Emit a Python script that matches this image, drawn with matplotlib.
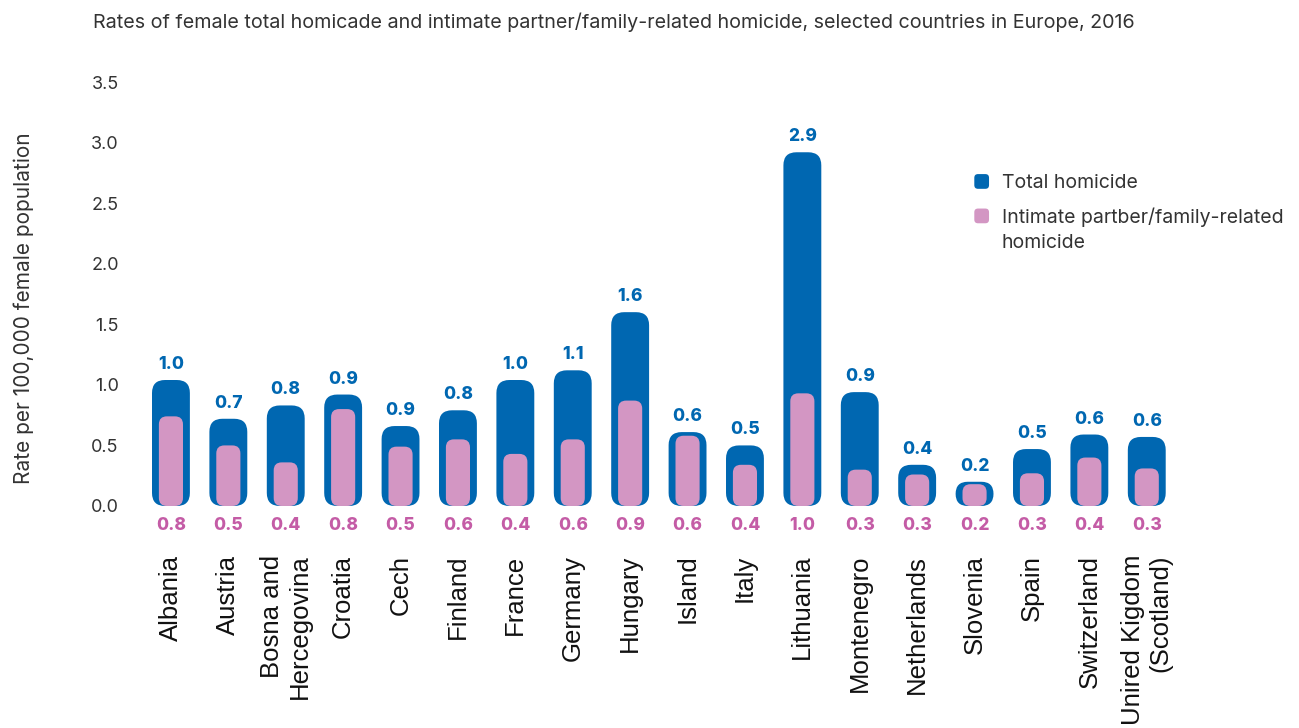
import matplotlib
matplotlib.use("Agg")
import matplotlib.pyplot as plt
from matplotlib.patches import FancyBboxPatch, Patch
from matplotlib.legend_handler import HandlerPatch
import numpy as np

countries = ["Albania", "Austria", "Bosna and\nHercegovina", "Croatia", "Cech", "Finland",
             "France", "Germany", "Hungary", "Island", "Italy", "Lithuania", "Montenegro",
             "Netherlands", "Slovenia", "Spain", "Switzerland", "Unired Kigdom\n(Scotland)"]
# bar heights as drawn in the picture
total_height = [1.04, 0.72, 0.83, 0.92, 0.66, 0.79, 1.04, 1.12, 1.60, 0.61, 0.50, 2.92,
                0.94, 0.34, 0.20, 0.47, 0.59, 0.57]
ipf_height = [0.74, 0.50, 0.36, 0.80, 0.49, 0.55, 0.43, 0.55, 0.87, 0.58, 0.34, 0.93,
              0.30, 0.26, 0.18, 0.27, 0.40, 0.31]
# printed value labels
total_labels = [1.0, 0.7, 0.8, 0.9, 0.9, 0.8, 1.0, 1.1, 1.6, 0.6, 0.5, 2.9, 0.9, 0.4, 0.2, 0.5, 0.6, 0.6]
ipf_labels = [0.8, 0.5, 0.4, 0.8, 0.5, 0.6, 0.4, 0.6, 0.9, 0.6, 0.4, 1.0, 0.3, 0.3, 0.2, 0.3, 0.4, 0.3]
yticks = [0.0, 0.5, 1.0, 1.5, 2.0, 2.5, 3.0, 3.5]

BLUE = "#0067B1"
PINK = "#D396C3"
PINK_TXT = "#C45CA6"
GEO = ["Inter", "DejaVu Sans"]

fig = plt.figure(figsize=(12.99, 7.28), dpi=100)
ax = fig.add_axes([0.1095, 0.280, 0.7954, 0.624])
ax.set_xlim(-0.5, 17.5)
ax.set_ylim(-0.15, 3.6)

x = np.arange(len(countries))
bars_t = ax.bar(x, total_height, width=0.66, color=BLUE)
bars_p = ax.bar(x, ipf_height, width=0.42, color=PINK)

fig.canvas.draw()
bb = ax.get_window_extent()
ppx = bb.width / (ax.get_xlim()[1] - ax.get_xlim()[0])
ppy = bb.height / (ax.get_ylim()[1] - ax.get_ylim()[0])
aspect = ppx / ppy


def roundify(bars, radius_px, color, z):
    r = radius_px / ppx
    for b in bars:
        x0, y0 = b.get_x(), b.get_y()
        w, h = b.get_width(), b.get_height()
        b.set_visible(False)
        rr = min(r, w / 2, h * ppy / ppx / 2)
        p = FancyBboxPatch((x0, y0), w, h,
                           boxstyle=f"round,pad=0,rounding_size={rr}",
                           mutation_aspect=aspect, facecolor=color,
                           edgecolor="none", zorder=z)
        ax.add_patch(p)


roundify(bars_t, 13, BLUE, 2)
roundify(bars_p, 8, PINK, 3)

for xi, h, lab in zip(x, total_height, total_labels):
    ax.annotate(f"{lab:.1f}", (xi, h), xytext=(0, 5), textcoords="offset points",
                ha="center", va="bottom", color=BLUE, fontsize=12.5, fontweight="heavy",
                family=GEO)
for xi, lab in zip(x, ipf_labels):
    ax.annotate(f"{lab:.1f}", (xi, 0), xytext=(0, -14), textcoords="offset points",
                ha="center", va="center", color=PINK_TXT, fontsize=12.5, fontweight="heavy",
                family=GEO, annotation_clip=False)

for s in ax.spines.values():
    s.set_visible(False)
ax.set_yticks(yticks, [f"{v:.1f}" for v in yticks], family=GEO, fontsize=13, color="#333333")
ax.tick_params(axis="y", length=0, pad=17)
ax.set_xticks(x, countries, rotation=90, family="Liberation Sans", fontsize=18.5,
              color="#111111", multialignment="right", va="top", ha="center")
ax.tick_params(axis="x", length=0, pad=22)

ax.set_ylabel("Rate per 100,000 female population", family=GEO, fontsize=15, color="#333333")
ax.yaxis.set_label_coords(-0.105, 0.475)

fig.text(93 / 1299, 1 - 22 / 728,
         "Rates of female total homicade and intimate partner/family-related homicide, selected countries in Europe, 2016",
         family=GEO, fontsize=14.2, color="#333333", ha="left", va="center")


class RoundHandler(HandlerPatch):
    def __init__(self, shift=0.0, **kw):
        super().__init__(**kw)
        self.shift = shift

    def create_artists(self, legend, orig_handle, xdescent, ydescent, width, height, fontsize, trans):
        s = height * 0.95
        x0 = -xdescent + (width - s) / 2
        y0 = -ydescent + (height - s) / 2 + self.shift * fontsize
        p = FancyBboxPatch((x0, y0), s, s, boxstyle=f"round,pad=0,rounding_size={s*0.25}",
                           facecolor=orig_handle.get_facecolor(), edgecolor="none",
                           transform=trans)
        return [p]


h1 = Patch(facecolor=BLUE)
h2 = Patch(facecolor=PINK)
leg = ax.legend([h1, h2], ["Total homicide", "Intimate partber/family-related\nhomicide"],
                loc="upper left", bbox_to_anchor=(0.7875, 0.81), frameon=False,
                handler_map={h1: RoundHandler(0.0), h2: RoundHandler(0.72)},
                handlelength=0.85, handleheight=0.85, handletextpad=0.6, labelspacing=0.8,
                prop={"family": GEO, "size": 14})
for t in leg.get_texts():
    t.set_color("#333333")
    t.set_linespacing(1.45)

fig.savefig("out.png", dpi=100)
